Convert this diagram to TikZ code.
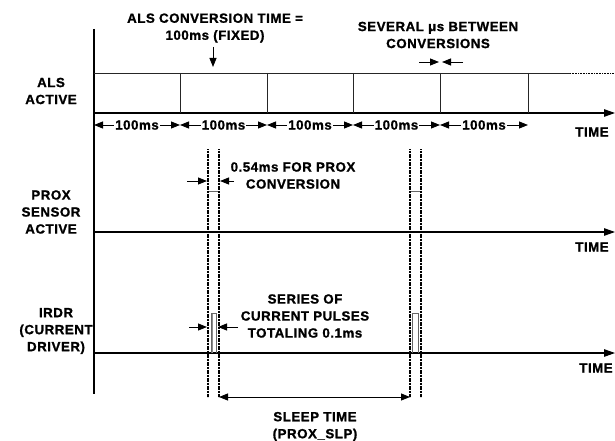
\documentclass[tikz,border=0pt]{standalone}
\usepackage{fontspec}
\setmainfont{Liberation Sans}[LetterSpace=4, BoldFeatures={FakeBold=1.2}]
\usetikzlibrary{arrows.meta}
\begin{document}
\begin{tikzpicture}[x=1pt,y=-1pt,
  lbl/.style={font=\bfseries\fontsize{13.3}{17}\selectfont, align=center, inner sep=0pt},
  axisline/.style={line width=1.1pt},
  axisarrow/.style={line width=1.1pt, -{Triangle[length=11pt,width=7.5pt]}},
  boxline/.style={line width=0.7pt, draw=black!85},
  dotline/.style={line width=1.4pt, dash pattern=on 1.2pt off 0.4pt},
  arr/.style={line width=0.9pt, -{Triangle[length=9pt,width=7pt]}},
  dimarr/.style={line width=0.9pt, {Triangle[length=9pt,width=7pt]}-{Triangle[length=9pt,width=7pt]}},
  pulse/.style={line width=0.8pt, draw=black!60}
]
\useasboundingbox (0,0) rectangle (615,441);

% main vertical axis
\coordinate (vtop) at (94,29);
\coordinate (vbot) at (94,394);
\draw[axisline] (vtop) -- (vbot);

% ALS row
\coordinate (a0) at (94,113);
\coordinate (aend) at (615,113);
\draw[axisarrow] (a0) -- (aend);
\coordinate (t0) at (94,73);
\coordinate (t1) at (570,73);
\coordinate (t2) at (615,73);
\draw[boxline] (t0) -- (t1);
\draw[line width=0.9pt, dash pattern=on 1pt off 0.6pt] (t1) -- (t2);
\foreach \x in {180,267,353,440,528}{
  \draw[boxline] (\x,73) -- (\x,113);
}
% 100ms segments
\foreach \a/\b [count=\i] in {94/180,180/267,267/353,353/440,440/528}{
  \node[lbl] (ms\i) at ({(\a+\b)/2},125) {100ms};
  \coordinate (msl\i) at (\a,125);
  \coordinate (msr\i) at (\b,125);
  \draw[arr] ([xshift=-1pt]ms\i.west) -- (msl\i);
  \draw[arr] ([xshift=1pt]ms\i.east) -- (msr\i);
}
\node[lbl] (time1) at (592,132) {TIME};
\node[lbl] (alslbl) at (51,91) {ALS\\ACTIVE};

\node[lbl] (convt) at (215,28) {ALS CONVERSION TIME =\\100ms (FIXED)};
\coordinate (dA) at (213,47);
\coordinate (dB) at (213,67);
\draw[arr] (dA) -- (dB);

\node[lbl] (sev) at (438,35) {SEVERAL μs BETWEEN\\CONVERSIONS};
\coordinate (sA) at (419,62);
\coordinate (sB) at (439,62);
\coordinate (sC) at (463,62);
\coordinate (sD) at (442,62);
\draw[arr] (sA) -- (sB);
\draw[arr] (sC) -- (sD);

% PROX row
\coordinate (p0) at (94,232);
\coordinate (pend) at (615,232);
\draw[axisarrow] (p0) -- (pend);
\node[lbl] (time2) at (592,247) {TIME};
\node[lbl] (proxlbl) at (51,212) {PROX\\SENSOR\\ACTIVE};
\draw[pulse] (208,191) -- (219,191);
\draw[pulse] (410,191) -- (421,191);
\node[lbl] (prxt) at (293,175.5) {0.54ms FOR PROX\\CONVERSION};
\coordinate (pA) at (187,181);
\coordinate (pB) at (207,181);
\coordinate (pC) at (234,181);
\coordinate (pD) at (220,181);
\draw[arr] (pA) -- (pB);
\draw[arr] (pC) -- (pD);

% IRDR row
\coordinate (i0) at (94,353);
\coordinate (iend) at (615,353);
\draw[axisarrow] (i0) -- (iend);
\node[lbl] (time3) at (596,368) {TIME};
\node[lbl] (irdrlbl) at (56,331) {IRDR\\(CURRENT\\DRIVER)};
\fill[black!45] (211,313) rectangle (213,353);
\draw[pulse] (211,353) -- (211,313) -- (216,313) -- (216,353);
\draw[pulse] (412,353) -- (412,313) -- (418,313) -- (418,353);
\node[lbl] (sert) at (305,316) {SERIES OF\\CURRENT PULSES\\TOTALING 0.1ms};
\coordinate (iA) at (189,327);
\coordinate (iB) at (207,327);
\coordinate (iC) at (238,327);
\coordinate (iD) at (218,327);
\draw[arr] (iA) -- (iB);
\draw[arr] (iC) -- (iD);

% dotted verticals
\foreach \x in {208,219,410,421}{
  \draw[dotline] (\x,149) -- (\x,397);
}

% sleep time
\coordinate (slA) at (219,397);
\coordinate (slB) at (410,397);
\draw[dimarr] (slA) -- (slB);
\node[lbl] (slp) at (315,426.5) {SLEEP TIME\\(PROX\_SLP)};
\end{tikzpicture}
\end{document}
